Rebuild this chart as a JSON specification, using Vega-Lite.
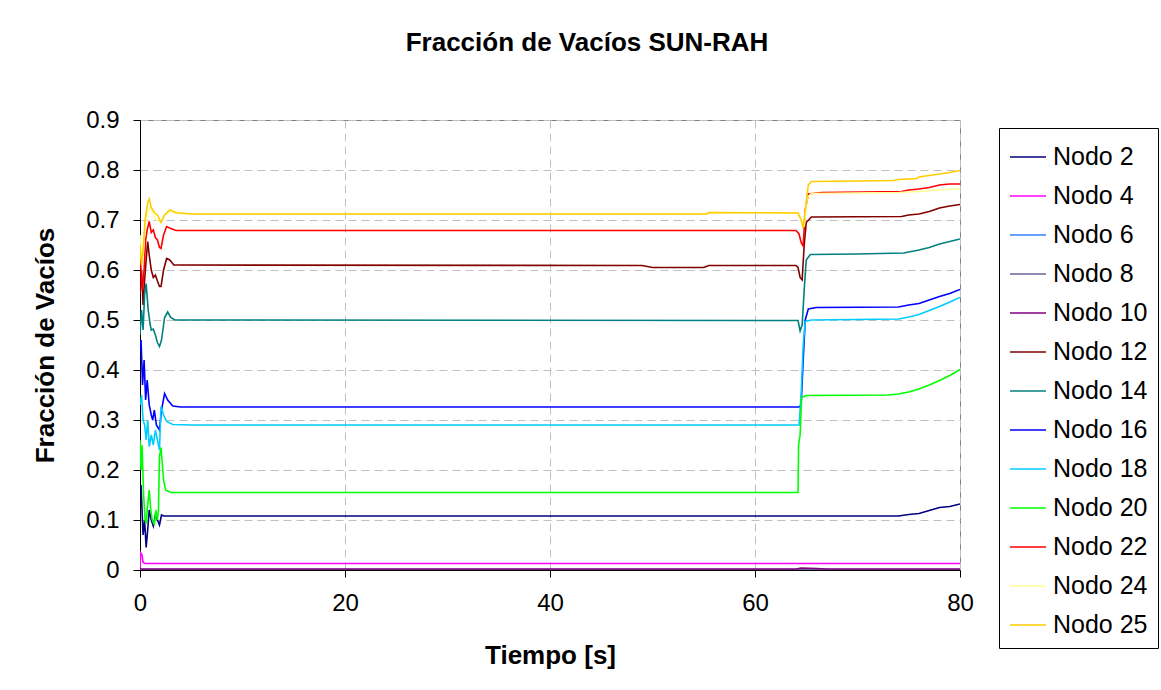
{
  "$schema": "https://vega.github.io/schema/vega-lite/v6.json",
  "width": 820,
  "height": 450,
  "autosize": {"type": "none"},
  "padding": {"left": 140, "top": 120, "right": 201, "bottom": 120},
  "background": "white",
  "title": {
    "text": "Fracción de Vacíos SUN-RAH",
    "font": "Liberation Sans",
    "fontSize": 26,
    "fontWeight": "bold",
    "color": "black",
    "anchor": "middle",
    "dx": 37,
    "offset": 52
  },
  "config": {
    "view": {"stroke": "#808080", "strokeWidth": 1},
    "font": "Liberation Sans"
  },
  "data": {
    "values": [
      {"s": "Nodo 2", "t": 0, "v": 0.16},
      {"s": "Nodo 2", "t": 0.1, "v": 0.17},
      {"s": "Nodo 2", "t": 0.2, "v": 0.12},
      {"s": "Nodo 2", "t": 0.3, "v": 0.07},
      {"s": "Nodo 2", "t": 0.45, "v": 0.1},
      {"s": "Nodo 2", "t": 0.6, "v": 0.045},
      {"s": "Nodo 2", "t": 0.75, "v": 0.08},
      {"s": "Nodo 2", "t": 0.9, "v": 0.12},
      {"s": "Nodo 2", "t": 1.1, "v": 0.1},
      {"s": "Nodo 2", "t": 1.3, "v": 0.088},
      {"s": "Nodo 2", "t": 1.5, "v": 0.11},
      {"s": "Nodo 2", "t": 1.7, "v": 0.1},
      {"s": "Nodo 2", "t": 1.9, "v": 0.09},
      {"s": "Nodo 2", "t": 2.1, "v": 0.11},
      {"s": "Nodo 2", "t": 2.3, "v": 0.108},
      {"s": "Nodo 2", "t": 40, "v": 0.108},
      {"s": "Nodo 2", "t": 74, "v": 0.108},
      {"s": "Nodo 2", "t": 75, "v": 0.111},
      {"s": "Nodo 2", "t": 76, "v": 0.113},
      {"s": "Nodo 2", "t": 77, "v": 0.119},
      {"s": "Nodo 2", "t": 78, "v": 0.125},
      {"s": "Nodo 2", "t": 79, "v": 0.127},
      {"s": "Nodo 2", "t": 80, "v": 0.132},

      {"s": "Nodo 4", "t": 0, "v": 0.0},
      {"s": "Nodo 4", "t": 0.05, "v": 0.035},
      {"s": "Nodo 4", "t": 0.2, "v": 0.03},
      {"s": "Nodo 4", "t": 0.3, "v": 0.015},
      {"s": "Nodo 4", "t": 0.5, "v": 0.013},
      {"s": "Nodo 4", "t": 80, "v": 0.013},

      {"s": "Nodo 6", "t": 0, "v": 0.0},
      {"s": "Nodo 6", "t": 80, "v": 0.0},

      {"s": "Nodo 8", "t": 0, "v": 0.001},
      {"s": "Nodo 8", "t": 80, "v": 0.001},

      {"s": "Nodo 10", "t": 0, "v": 0.002},
      {"s": "Nodo 10", "t": 64, "v": 0.002},
      {"s": "Nodo 10", "t": 64.5, "v": 0.004},
      {"s": "Nodo 10", "t": 66, "v": 0.003},
      {"s": "Nodo 10", "t": 67, "v": 0.002},
      {"s": "Nodo 10", "t": 80, "v": 0.002},

      {"s": "Nodo 12", "t": 0, "v": 0.55},
      {"s": "Nodo 12", "t": 0.15, "v": 0.6},
      {"s": "Nodo 12", "t": 0.3, "v": 0.53},
      {"s": "Nodo 12", "t": 0.45, "v": 0.58},
      {"s": "Nodo 12", "t": 0.6, "v": 0.62},
      {"s": "Nodo 12", "t": 0.75, "v": 0.657},
      {"s": "Nodo 12", "t": 0.9, "v": 0.63},
      {"s": "Nodo 12", "t": 1.1, "v": 0.6},
      {"s": "Nodo 12", "t": 1.3, "v": 0.585},
      {"s": "Nodo 12", "t": 1.5, "v": 0.59},
      {"s": "Nodo 12", "t": 1.7, "v": 0.578},
      {"s": "Nodo 12", "t": 1.9, "v": 0.567},
      {"s": "Nodo 12", "t": 2.05, "v": 0.567},
      {"s": "Nodo 12", "t": 2.3, "v": 0.6},
      {"s": "Nodo 12", "t": 2.6, "v": 0.623},
      {"s": "Nodo 12", "t": 2.9, "v": 0.62},
      {"s": "Nodo 12", "t": 3.3, "v": 0.61},
      {"s": "Nodo 12", "t": 49, "v": 0.609},
      {"s": "Nodo 12", "t": 50, "v": 0.605},
      {"s": "Nodo 12", "t": 55, "v": 0.605},
      {"s": "Nodo 12", "t": 55.5, "v": 0.609},
      {"s": "Nodo 12", "t": 64.0, "v": 0.609},
      {"s": "Nodo 12", "t": 64.2, "v": 0.605},
      {"s": "Nodo 12", "t": 64.4, "v": 0.585},
      {"s": "Nodo 12", "t": 64.6, "v": 0.58},
      {"s": "Nodo 12", "t": 64.8, "v": 0.65},
      {"s": "Nodo 12", "t": 65.0, "v": 0.695},
      {"s": "Nodo 12", "t": 65.5, "v": 0.706},
      {"s": "Nodo 12", "t": 74.3, "v": 0.707},
      {"s": "Nodo 12", "t": 75, "v": 0.71},
      {"s": "Nodo 12", "t": 76, "v": 0.712},
      {"s": "Nodo 12", "t": 77, "v": 0.717},
      {"s": "Nodo 12", "t": 78, "v": 0.724},
      {"s": "Nodo 12", "t": 79, "v": 0.728},
      {"s": "Nodo 12", "t": 80, "v": 0.731},

      {"s": "Nodo 14", "t": 0, "v": 0.47},
      {"s": "Nodo 14", "t": 0.15, "v": 0.52},
      {"s": "Nodo 14", "t": 0.3, "v": 0.48},
      {"s": "Nodo 14", "t": 0.45, "v": 0.55},
      {"s": "Nodo 14", "t": 0.6, "v": 0.573},
      {"s": "Nodo 14", "t": 0.8, "v": 0.52},
      {"s": "Nodo 14", "t": 1.0, "v": 0.49},
      {"s": "Nodo 14", "t": 1.1, "v": 0.48},
      {"s": "Nodo 14", "t": 1.3, "v": 0.482},
      {"s": "Nodo 14", "t": 1.5, "v": 0.47},
      {"s": "Nodo 14", "t": 1.7, "v": 0.455},
      {"s": "Nodo 14", "t": 1.9, "v": 0.447},
      {"s": "Nodo 14", "t": 2.1, "v": 0.46},
      {"s": "Nodo 14", "t": 2.4, "v": 0.505},
      {"s": "Nodo 14", "t": 2.7, "v": 0.516},
      {"s": "Nodo 14", "t": 3.0, "v": 0.505},
      {"s": "Nodo 14", "t": 3.4, "v": 0.5},
      {"s": "Nodo 14", "t": 64.2, "v": 0.499},
      {"s": "Nodo 14", "t": 64.4, "v": 0.478},
      {"s": "Nodo 14", "t": 64.6, "v": 0.49},
      {"s": "Nodo 14", "t": 64.8, "v": 0.56},
      {"s": "Nodo 14", "t": 65.0, "v": 0.62},
      {"s": "Nodo 14", "t": 65.4, "v": 0.631},
      {"s": "Nodo 14", "t": 70, "v": 0.632},
      {"s": "Nodo 14", "t": 74.5, "v": 0.634},
      {"s": "Nodo 14", "t": 76, "v": 0.64},
      {"s": "Nodo 14", "t": 77, "v": 0.645},
      {"s": "Nodo 14", "t": 78, "v": 0.652},
      {"s": "Nodo 14", "t": 79, "v": 0.657},
      {"s": "Nodo 14", "t": 80, "v": 0.662},

      {"s": "Nodo 16", "t": 0, "v": 0.44},
      {"s": "Nodo 16", "t": 0.1, "v": 0.46},
      {"s": "Nodo 16", "t": 0.25, "v": 0.37},
      {"s": "Nodo 16", "t": 0.4, "v": 0.42},
      {"s": "Nodo 16", "t": 0.55, "v": 0.34},
      {"s": "Nodo 16", "t": 0.7, "v": 0.38},
      {"s": "Nodo 16", "t": 0.9, "v": 0.33},
      {"s": "Nodo 16", "t": 1.1, "v": 0.31},
      {"s": "Nodo 16", "t": 1.24, "v": 0.3},
      {"s": "Nodo 16", "t": 1.4, "v": 0.32},
      {"s": "Nodo 16", "t": 1.6, "v": 0.29},
      {"s": "Nodo 16", "t": 1.9, "v": 0.28},
      {"s": "Nodo 16", "t": 2.1, "v": 0.32},
      {"s": "Nodo 16", "t": 2.4, "v": 0.353},
      {"s": "Nodo 16", "t": 2.7, "v": 0.34},
      {"s": "Nodo 16", "t": 3.2, "v": 0.328},
      {"s": "Nodo 16", "t": 4, "v": 0.326},
      {"s": "Nodo 16", "t": 64.3, "v": 0.326},
      {"s": "Nodo 16", "t": 64.5, "v": 0.33},
      {"s": "Nodo 16", "t": 64.7, "v": 0.42},
      {"s": "Nodo 16", "t": 64.9, "v": 0.5},
      {"s": "Nodo 16", "t": 65.2, "v": 0.522},
      {"s": "Nodo 16", "t": 66, "v": 0.525},
      {"s": "Nodo 16", "t": 74, "v": 0.526},
      {"s": "Nodo 16", "t": 75, "v": 0.53},
      {"s": "Nodo 16", "t": 76, "v": 0.533},
      {"s": "Nodo 16", "t": 77, "v": 0.54},
      {"s": "Nodo 16", "t": 78, "v": 0.547},
      {"s": "Nodo 16", "t": 79, "v": 0.553},
      {"s": "Nodo 16", "t": 80, "v": 0.561},

      {"s": "Nodo 18", "t": 0, "v": 0.33},
      {"s": "Nodo 18", "t": 0.15, "v": 0.35},
      {"s": "Nodo 18", "t": 0.3, "v": 0.3},
      {"s": "Nodo 18", "t": 0.45, "v": 0.29},
      {"s": "Nodo 18", "t": 0.6, "v": 0.26},
      {"s": "Nodo 18", "t": 0.75, "v": 0.3},
      {"s": "Nodo 18", "t": 0.9, "v": 0.247},
      {"s": "Nodo 18", "t": 1.1, "v": 0.27},
      {"s": "Nodo 18", "t": 1.3, "v": 0.25},
      {"s": "Nodo 18", "t": 1.5, "v": 0.28},
      {"s": "Nodo 18", "t": 1.7, "v": 0.26},
      {"s": "Nodo 18", "t": 1.9, "v": 0.24},
      {"s": "Nodo 18", "t": 2.05, "v": 0.327},
      {"s": "Nodo 18", "t": 2.3, "v": 0.31},
      {"s": "Nodo 18", "t": 2.6, "v": 0.297},
      {"s": "Nodo 18", "t": 3.2, "v": 0.291},
      {"s": "Nodo 18", "t": 5, "v": 0.29},
      {"s": "Nodo 18", "t": 64.3, "v": 0.29},
      {"s": "Nodo 18", "t": 64.5, "v": 0.35},
      {"s": "Nodo 18", "t": 64.7, "v": 0.45},
      {"s": "Nodo 18", "t": 64.9, "v": 0.497},
      {"s": "Nodo 18", "t": 65.5, "v": 0.5},
      {"s": "Nodo 18", "t": 74, "v": 0.502},
      {"s": "Nodo 18", "t": 75, "v": 0.506},
      {"s": "Nodo 18", "t": 76, "v": 0.511},
      {"s": "Nodo 18", "t": 77, "v": 0.519},
      {"s": "Nodo 18", "t": 78, "v": 0.527},
      {"s": "Nodo 18", "t": 79, "v": 0.536},
      {"s": "Nodo 18", "t": 80, "v": 0.545},

      {"s": "Nodo 20", "t": 0, "v": 0.26},
      {"s": "Nodo 20", "t": 0.1, "v": 0.2},
      {"s": "Nodo 20", "t": 0.2, "v": 0.25},
      {"s": "Nodo 20", "t": 0.35, "v": 0.15},
      {"s": "Nodo 20", "t": 0.5, "v": 0.1},
      {"s": "Nodo 20", "t": 0.6, "v": 0.093},
      {"s": "Nodo 20", "t": 0.75, "v": 0.13},
      {"s": "Nodo 20", "t": 0.9, "v": 0.16},
      {"s": "Nodo 20", "t": 1.05, "v": 0.12},
      {"s": "Nodo 20", "t": 1.2, "v": 0.1},
      {"s": "Nodo 20", "t": 1.4, "v": 0.09},
      {"s": "Nodo 20", "t": 1.55, "v": 0.12},
      {"s": "Nodo 20", "t": 1.7, "v": 0.1},
      {"s": "Nodo 20", "t": 1.8, "v": 0.12},
      {"s": "Nodo 20", "t": 1.9, "v": 0.227},
      {"s": "Nodo 20", "t": 2.05, "v": 0.245},
      {"s": "Nodo 20", "t": 2.3, "v": 0.18},
      {"s": "Nodo 20", "t": 2.5, "v": 0.16},
      {"s": "Nodo 20", "t": 3, "v": 0.155},
      {"s": "Nodo 20", "t": 64.2, "v": 0.155},
      {"s": "Nodo 20", "t": 64.25, "v": 0.25},
      {"s": "Nodo 20", "t": 64.4, "v": 0.27},
      {"s": "Nodo 20", "t": 64.55, "v": 0.345},
      {"s": "Nodo 20", "t": 65, "v": 0.349},
      {"s": "Nodo 20", "t": 73, "v": 0.35},
      {"s": "Nodo 20", "t": 74, "v": 0.352},
      {"s": "Nodo 20", "t": 75, "v": 0.356},
      {"s": "Nodo 20", "t": 76, "v": 0.362},
      {"s": "Nodo 20", "t": 77, "v": 0.37},
      {"s": "Nodo 20", "t": 78, "v": 0.379},
      {"s": "Nodo 20", "t": 79, "v": 0.389},
      {"s": "Nodo 20", "t": 80, "v": 0.401},

      {"s": "Nodo 22", "t": 0, "v": 0.64},
      {"s": "Nodo 22", "t": 0.1, "v": 0.6},
      {"s": "Nodo 22", "t": 0.25, "v": 0.56},
      {"s": "Nodo 22", "t": 0.4, "v": 0.6},
      {"s": "Nodo 22", "t": 0.55, "v": 0.66},
      {"s": "Nodo 22", "t": 0.7, "v": 0.68},
      {"s": "Nodo 22", "t": 0.9, "v": 0.697},
      {"s": "Nodo 22", "t": 1.1, "v": 0.675},
      {"s": "Nodo 22", "t": 1.3, "v": 0.68},
      {"s": "Nodo 22", "t": 1.5, "v": 0.665},
      {"s": "Nodo 22", "t": 1.7, "v": 0.66},
      {"s": "Nodo 22", "t": 1.9, "v": 0.645},
      {"s": "Nodo 22", "t": 2.05, "v": 0.643},
      {"s": "Nodo 22", "t": 2.3, "v": 0.67},
      {"s": "Nodo 22", "t": 2.6, "v": 0.687},
      {"s": "Nodo 22", "t": 3, "v": 0.683},
      {"s": "Nodo 22", "t": 3.5, "v": 0.679},
      {"s": "Nodo 22", "t": 64.0, "v": 0.679},
      {"s": "Nodo 22", "t": 64.3, "v": 0.672},
      {"s": "Nodo 22", "t": 64.5, "v": 0.655},
      {"s": "Nodo 22", "t": 64.7, "v": 0.648},
      {"s": "Nodo 22", "t": 64.9, "v": 0.72},
      {"s": "Nodo 22", "t": 65.2, "v": 0.752},
      {"s": "Nodo 22", "t": 66.5, "v": 0.755},
      {"s": "Nodo 22", "t": 74.3, "v": 0.757},
      {"s": "Nodo 22", "t": 75, "v": 0.76},
      {"s": "Nodo 22", "t": 76, "v": 0.762},
      {"s": "Nodo 22", "t": 77, "v": 0.765},
      {"s": "Nodo 22", "t": 78, "v": 0.77},
      {"s": "Nodo 22", "t": 79, "v": 0.772},
      {"s": "Nodo 22", "t": 80, "v": 0.772},

      {"s": "Nodo 24", "t": 0, "v": 0.67},
      {"s": "Nodo 24", "t": 0.15, "v": 0.62},
      {"s": "Nodo 24", "t": 0.3, "v": 0.63},
      {"s": "Nodo 24", "t": 0.5, "v": 0.69},
      {"s": "Nodo 24", "t": 0.8, "v": 0.72},
      {"s": "Nodo 24", "t": 1.0, "v": 0.727},
      {"s": "Nodo 24", "t": 1.3, "v": 0.71},
      {"s": "Nodo 24", "t": 1.6, "v": 0.7},
      {"s": "Nodo 24", "t": 2.0, "v": 0.695},
      {"s": "Nodo 24", "t": 2.4, "v": 0.71},
      {"s": "Nodo 24", "t": 2.9, "v": 0.718},
      {"s": "Nodo 24", "t": 3.5, "v": 0.713},
      {"s": "Nodo 24", "t": 5, "v": 0.712},
      {"s": "Nodo 24", "t": 55.3, "v": 0.712},
      {"s": "Nodo 24", "t": 55.5, "v": 0.715},
      {"s": "Nodo 24", "t": 64.2, "v": 0.714},
      {"s": "Nodo 24", "t": 64.5, "v": 0.7},
      {"s": "Nodo 24", "t": 64.8, "v": 0.69},
      {"s": "Nodo 24", "t": 65.1, "v": 0.745},
      {"s": "Nodo 24", "t": 65.5, "v": 0.753},
      {"s": "Nodo 24", "t": 74, "v": 0.755},
      {"s": "Nodo 24", "t": 76, "v": 0.757},
      {"s": "Nodo 24", "t": 78, "v": 0.76},
      {"s": "Nodo 24", "t": 80, "v": 0.763},

      {"s": "Nodo 25", "t": 0, "v": 0.65},
      {"s": "Nodo 25", "t": 0.15, "v": 0.61},
      {"s": "Nodo 25", "t": 0.3, "v": 0.64},
      {"s": "Nodo 25", "t": 0.5, "v": 0.7},
      {"s": "Nodo 25", "t": 0.75, "v": 0.735},
      {"s": "Nodo 25", "t": 0.9, "v": 0.742},
      {"s": "Nodo 25", "t": 1.1, "v": 0.725},
      {"s": "Nodo 25", "t": 1.4, "v": 0.715},
      {"s": "Nodo 25", "t": 1.7, "v": 0.71},
      {"s": "Nodo 25", "t": 2.05, "v": 0.695},
      {"s": "Nodo 25", "t": 2.4, "v": 0.71},
      {"s": "Nodo 25", "t": 2.9, "v": 0.72},
      {"s": "Nodo 25", "t": 3.5, "v": 0.715},
      {"s": "Nodo 25", "t": 5, "v": 0.712},
      {"s": "Nodo 25", "t": 55.3, "v": 0.712},
      {"s": "Nodo 25", "t": 55.5, "v": 0.715},
      {"s": "Nodo 25", "t": 64.2, "v": 0.714},
      {"s": "Nodo 25", "t": 64.5, "v": 0.7},
      {"s": "Nodo 25", "t": 64.7, "v": 0.684},
      {"s": "Nodo 25", "t": 64.9, "v": 0.72},
      {"s": "Nodo 25", "t": 65.2, "v": 0.77},
      {"s": "Nodo 25", "t": 65.5, "v": 0.777},
      {"s": "Nodo 25", "t": 70, "v": 0.778},
      {"s": "Nodo 25", "t": 73.5, "v": 0.779},
      {"s": "Nodo 25", "t": 74, "v": 0.781},
      {"s": "Nodo 25", "t": 75.8, "v": 0.783},
      {"s": "Nodo 25", "t": 76, "v": 0.786},
      {"s": "Nodo 25", "t": 77, "v": 0.789},
      {"s": "Nodo 25", "t": 78, "v": 0.792},
      {"s": "Nodo 25", "t": 79, "v": 0.795},
      {"s": "Nodo 25", "t": 80, "v": 0.799}
    ]
  },
  "mark": {"type": "line", "strokeWidth": 1.6, "clip": true},
  "encoding": {
    "x": {
      "field": "t",
      "type": "quantitative",
      "scale": {"domain": [0, 80], "nice": false},
      "axis": {
        "values": [0, 20, 40, 60, 80],
        "title": "Tiempo [s]",
        "titleFont": "Liberation Sans",
        "titleFontSize": 26,
        "titleFontWeight": "bold",
        "titleColor": "black",
        "titleX": 410,
        "titleY": 85,
        "titleBaseline": "middle",
        "labelFont": "Liberation Sans",
        "labelFontSize": 24,
        "labelColor": "black",
        "labelPadding": 14,
        "tickSize": 7,
        "tickColor": "black",
        "domainColor": "black",
        "grid": true,
        "gridColor": "#c0c0c0",
        "gridDash": [8, 5],
        "labelFlush": false
      }
    },
    "y": {
      "field": "v",
      "type": "quantitative",
      "scale": {"domain": [0, 0.9], "nice": false},
      "axis": {
        "values": [0, 0.1, 0.2, 0.3, 0.4, 0.5, 0.6, 0.7, 0.8, 0.9],
        "format": "~g",
        "title": "Fracción de Vacíos",
        "titleFont": "Liberation Sans",
        "titleFontSize": 26,
        "titleFontWeight": "bold",
        "titleColor": "black",
        "titleX": -95,
        "titleY": 225,
        "titleAngle": -90,
        "titleAlign": "center",
        "titleBaseline": "middle",
        "labelFont": "Liberation Sans",
        "labelFontSize": 24,
        "labelColor": "black",
        "labelPadding": 14,
        "tickSize": 7,
        "tickColor": "black",
        "domainColor": "black",
        "grid": true,
        "gridColor": "#c0c0c0",
        "gridDash": [8, 5]
      }
    },
    "color": {
      "field": "s",
      "type": "nominal",
      "scale": {
        "domain": ["Nodo 2", "Nodo 4", "Nodo 6", "Nodo 8", "Nodo 10", "Nodo 12", "Nodo 14", "Nodo 16", "Nodo 18", "Nodo 20", "Nodo 22", "Nodo 24", "Nodo 25"],
        "range": ["#000080", "#ff00ff", "#3380ff", "#666699", "#800080", "#800000", "#008080", "#0000ff", "#00ccff", "#00ff00", "#ff0000", "#ffff99", "#ffcc00"]
      },
      "legend": {
        "title": null,
        "orient": "none",
        "legendX": 859,
        "legendY": 8,
        "padding": 10,
        "strokeColor": "black",
        "fillColor": "white",
        "symbolType": "stroke",
        "symbolSize": 1296,
        "symbolStrokeWidth": 1.6,
        "labelFont": "Liberation Sans",
        "labelFontSize": 25,
        "labelColor": "black",
        "labelOffset": 6,
        "rowPadding": 7,
        "labelLimit": 200
      }
    }
  }
}
